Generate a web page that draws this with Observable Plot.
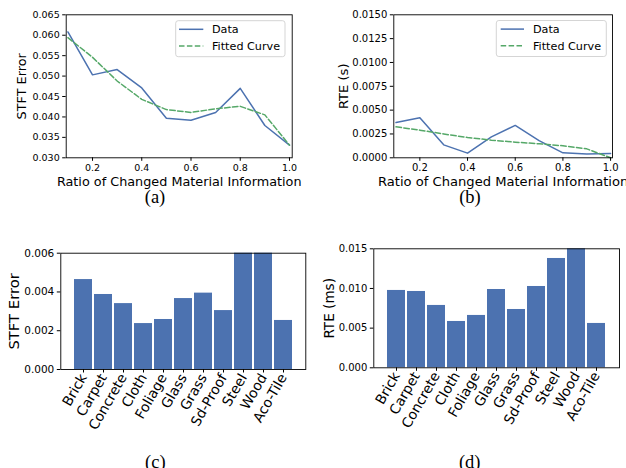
<!DOCTYPE html>
<html>
<head>
<meta charset="utf-8">
<script src="https://cdn.jsdelivr.net/npm/d3@7"></script>
<script src="https://cdn.jsdelivr.net/npm/@observablehq/plot@0.6"></script>
<style>
  body { margin: 0; background: #fff; }
  #root { position: relative; width: 626px; height: 468px; overflow: hidden; background: #fff; }
  .panel { position: absolute; }
  .panel svg { overflow: visible; display: block; }
  #overlay { position: absolute; left: 0; top: 0; pointer-events: none; }
</style>
</head>
<body>
<div id="root"></div>
<script>
// ---------- data ----------
const ratios = [0.1, 0.2, 0.3, 0.4, 0.5, 0.6, 0.7, 0.8, 0.9, 1.0];
const stftData = [0.0608, 0.0503, 0.0516, 0.0471, 0.0397, 0.0392, 0.0411, 0.0470, 0.0379, 0.0331];
const stftFit  = [0.0594, 0.0546, 0.0488, 0.0443, 0.0418, 0.0411, 0.0420, 0.0426, 0.0405, 0.0331];
const rteData  = [0.0037, 0.0042, 0.00136, 0.00049, 0.0022, 0.0034, 0.0018, 0.00052, 0.0004, 0.00045];
const rteFit   = [0.00325, 0.0029, 0.0025, 0.00213, 0.00185, 0.00164, 0.00147, 0.00126, 0.00094, 0.0];

const materials = ["Brick", "Carpet", "Concrete", "Cloth", "Foliage", "Glass", "Grass", "Sd-Proof", "Steel", "Wood", "Aco-Tile"];
const stftMat = [0.00464, 0.00387, 0.00340, 0.00237, 0.00258, 0.00366, 0.00394, 0.00304, 0.0060, 0.0060, 0.00253];
const rteMat  = [0.00975, 0.00962, 0.00786, 0.00584, 0.00660, 0.00987, 0.00735, 0.01025, 0.01378, 0.0150, 0.00559];

const ratioTicks = [0.2, 0.4, 0.6, 0.8, 1.0];
const stftLineTicks = [0.030, 0.035, 0.040, 0.045, 0.050, 0.055, 0.060, 0.065];
const rteLineTicks = [0, 0.0025, 0.005, 0.0075, 0.010, 0.0125, 0.015];
const stftBarTicks = [0, 0.002, 0.004, 0.006];
const rteBarTicks = [0, 0.005, 0.010, 0.015];

const xLabel = "Ratio of Changed Material Information";
const legendLabels = ["Data", "Fitted Curve"];
const captions = ["(a)", "(b)", "(c)", "(d)"];

const BLUE = "#4c72b0";
const GREEN = "#55a868";

const root = document.getElementById("root");

function place(svg, left, top) {
  const d = document.createElement("div");
  d.className = "panel";
  d.style.left = left + "px";
  d.style.top = top + "px";
  d.appendChild(svg);
  root.appendChild(d);
}

function linePanel(o) {
  const rows = ratios.map((x, i) => ({x, data: o.data[i], fit: o.fit[i]}));
  return Plot.plot({
    width: 313, height: 200,
    marginLeft: o.ml, marginRight: o.mr, marginTop: 14.3, marginBottom: 42.7,
    style: {fontFamily: "DejaVu Sans", fontSize: "10px", color: "#000", background: "transparent"},
    x: {domain: o.xDomain},
    y: {domain: o.yDomain},
    marks: [
      Plot.line(rows, {x: "x", y: "data", stroke: BLUE, strokeWidth: 1.5}),
      Plot.line(rows, {x: "x", y: "fit", stroke: GREEN, strokeWidth: 1.5, strokeDasharray: "5.5,2.4"}),
      Plot.frame({stroke: "#000", strokeWidth: 0.9}),
      Plot.axisX({ticks: ratioTicks, tickFormat: d3.format(".1f"), tickSize: 3.5, tickPadding: 3, fontSize: o.tickFs, label: null}),
      Plot.axisY({ticks: o.yTicks, tickFormat: d3.format(o.yFmt), tickSize: 3.5, tickPadding: 3, fontSize: o.tickFs, label: null}),
      Plot.text([xLabel], {text: d => d, frameAnchor: "bottom", dy: 24.3, lineAnchor: "middle", textAnchor: "middle", fontSize: o.labelFs}),
      Plot.text([o.ylabel], {text: d => d, frameAnchor: "left", dx: o.ylDx, rotate: -90, lineAnchor: "middle", textAnchor: "middle", fontSize: o.labelFs})
    ]
  });
}

function barPanel(o) {
  const rows = materials.map((m, i) => ({m, v: o.values[i]}));
  return Plot.plot({
    width: 313, height: 238,
    marginLeft: o.ml, marginRight: o.mr, marginTop: o.mt, marginBottom: o.mb,
    style: {fontFamily: "DejaVu Sans", fontSize: "10px", color: "#000", background: "transparent"},
    x: {type: "band", domain: materials, paddingInner: 0.1, paddingOuter: 0.545},
    y: {domain: o.yDomain},
    marks: [
      Plot.barY(rows, {x: "m", y: "v", fill: BLUE}),
      Plot.frame({stroke: "#000", strokeWidth: 0.9}),
      Plot.axisX({tickRotate: -60, tickSize: 3.5, tickPadding: 2, fontSize: o.catFs, label: null}),
      Plot.axisY({ticks: o.yTicks, tickFormat: d3.format(".3f"), tickSize: 3.5, tickPadding: 3, fontSize: o.tickFs, label: null}),
      Plot.text([o.ylabel], {text: d => d, frameAnchor: "left", dx: o.ylDx, rotate: -90, lineAnchor: "middle", textAnchor: "middle", fontSize: o.labelFs})
    ]
  });
}

place(linePanel({
  data: stftData, fit: stftFit, ml: 65.7, mr: 21.3,
  xDomain: [0.0931, 1.011], yDomain: [0.030, 0.065], yTicks: stftLineTicks, yFmt: ".3f",
  ylabel: "STFT Error", ylDx: -44.5, tickFs: 9.5, labelFs: 12.8
}), 0, 0);

place(linePanel({
  data: rteData, fit: rteFit, ml: 80.3, mr: 14,
  xDomain: [0.0907, 1.008], yDomain: [0, 0.015], yTicks: rteLineTicks, yFmt: ".4f",
  ylabel: "RTE (s)", ylDx: -50.5, tickFs: 10, labelFs: 13.1
}), 313, 0);

place(barPanel({
  values: stftMat, ml: 60.3, mr: 7.7, mt: 22.7, mb: 99,
  yDomain: [0, 0.006], yTicks: stftBarTicks,
  ylabel: "STFT Error", ylDx: -47, tickFs: 10.5, catFs: 13.8, labelFs: 14.8
}), 0, 230);

place(barPanel({
  values: rteMat, ml: 60.3, mr: 7, mt: 18.3, mb: 100.7,
  yDomain: [0, 0.015], yTicks: rteBarTicks,
  ylabel: "RTE (ms)", ylDx: -44.3, tickFs: 10, catFs: 13.8, labelFs: 13.6
}), 313, 230);

// ---------- legends and captions overlay ----------
const ns = "http://www.w3.org/2000/svg";
const ov = document.createElementNS(ns, "svg");
ov.setAttribute("id", "overlay");
ov.setAttribute("width", 626);
ov.setAttribute("height", 468);
root.appendChild(ov);

function el(tag, attrs, text) {
  const e = document.createElementNS(ns, tag);
  for (const k in attrs) e.setAttribute(k, attrs[k]);
  if (text != null) e.textContent = text;
  ov.appendChild(e);
  return e;
}

function legend(x, y, w, h, lineX0, lineX1, textX) {
  el("rect", {x, y, width: w, height: h, rx: 2.5, fill: "rgba(255,255,255,0.8)", stroke: "#d0d0d0", "stroke-width": 0.9});
  const rowsY = [y + 8.6, y + 25.3];
  el("line", {x1: lineX0, x2: lineX1, y1: rowsY[0], y2: rowsY[0], stroke: BLUE, "stroke-width": 1.5});
  el("line", {x1: lineX0, x2: lineX1, y1: rowsY[1], y2: rowsY[1], stroke: GREEN, "stroke-width": 1.5, "stroke-dasharray": "5.5,2.4"});
  legendLabels.forEach((t, i) => {
    el("text", {x: textX, y: rowsY[i] + 4, "font-family": "DejaVu Sans", "font-size": 11.2, fill: "#000"}, t);
  });
}
legend(175.7, 20.7, 109.3, 36, 179, 203.3, 212);
legend(496.3, 20.5, 110, 36, 500.7, 524, 533);

const capPos = [[155, 203], [470, 203], [155.3, 468], [469.7, 468]];
captions.forEach((c, i) => {
  el("text", {x: capPos[i][0], y: capPos[i][1], "text-anchor": "middle", "font-family": "Liberation Serif", "font-size": 18.5, fill: "#000"}, c);
});
</script>
</body>
</html>
